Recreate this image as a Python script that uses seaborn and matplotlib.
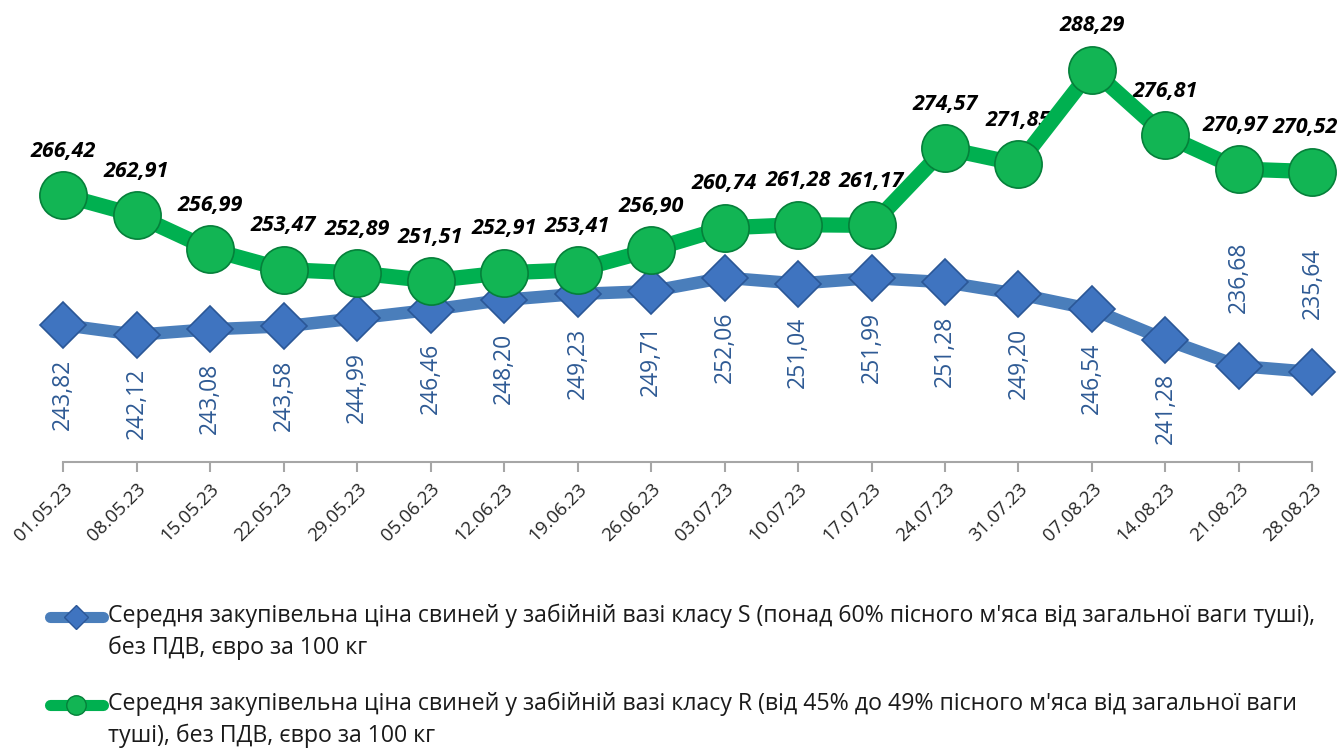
import matplotlib
matplotlib.use("Agg")
import matplotlib.pyplot as plt
import seaborn as sns
import pandas as pd
from matplotlib.lines import Line2D

dates = ["01.05.23", "08.05.23", "15.05.23", "22.05.23", "29.05.23", "05.06.23",
         "12.06.23", "19.06.23", "26.06.23", "03.07.23", "10.07.23", "17.07.23",
         "24.07.23", "31.07.23", "07.08.23", "14.08.23", "21.08.23", "28.08.23"]
class_s = [243.82, 242.12, 243.08, 243.58, 244.99, 246.46, 248.20, 249.23, 249.71,
           252.06, 251.04, 251.99, 251.28, 249.20, 246.54, 241.28, 236.68, 235.64]
class_r = [266.42, 262.91, 256.99, 253.47, 252.89, 251.51, 252.91, 253.41, 256.90,
           260.74, 261.28, 261.17, 274.57, 271.85, 288.29, 276.81, 270.97, 270.52]
label_s = ("Середня закупівельна ціна свиней у забійній вазі класу S (понад 60% пісного м'яса від загальної ваги туші),\n"
           "без ПДВ, євро за 100 кг")
label_r = ("Середня закупівельна ціна свиней у забійній вазі класу R (від 45% до 49% пісного м'яса від загальної ваги\n"
           "туші), без ПДВ, євро за 100 кг")

sns.set_theme(style="white")
plt.rcParams['font.family'] = ['Open Sans', 'DejaVu Sans']

blue = "#4A7EBB"
blue_mk = "#3F74C0"
blue_txt = "#2E5A94"
green = "#00B050"
green_mk = "#12B554"

df = pd.DataFrame({"x": range(len(dates)), "s": class_s, "r": class_r})

fig = plt.figure(figsize=(13.42, 7.51), dpi=100)
ax = fig.add_axes([0.047, 0.385, 0.931, 0.612])

sns.lineplot(data=df, x="x", y="s", ax=ax, color=blue, lw=9, marker="D",
             markersize=23, markerfacecolor=blue_mk, markeredgecolor="#2B5797",
             markeredgewidth=1.2, zorder=3)
sns.lineplot(data=df, x="x", y="r", ax=ax, color=green, lw=11, marker="o",
             markersize=34, markerfacecolor=green_mk, markeredgecolor="#05803A",
             markeredgewidth=1.2, zorder=4)
for ln in ax.lines:
    ln.set_clip_on(False)

n = len(class_r)
for i, v in enumerate(class_r):
    dx = 0
    if i == n - 2:
        dx = -2.5
    elif i == n - 1:
        dx = -5   # keep the last label inside the figure
    ax.annotate(f"{v:.2f}".replace(".", ","), (i, v), xytext=(dx, 24),
                textcoords="offset points", ha="center", va="bottom",
                fontsize=15.5, fontweight="bold", fontstyle="italic", color="black")

for i, v in enumerate(class_s):
    txt = f"{v:.2f}".replace(".", ",")
    if i >= 16:
        ax.annotate(txt, (i, v), xytext=(0, 38), textcoords="offset points",
                    ha="center", va="bottom", rotation=90, fontsize=16.5, color=blue_txt)
    else:
        ax.annotate(txt, (i, v), xytext=(0, -24), textcoords="offset points",
                    ha="center", va="top", rotation=90, fontsize=16.5, color=blue_txt)

ax.set_xlim(0, len(dates) - 1)
ax.set_ylim(220, 300)
ax.set_xticks(range(len(dates)))
ax.set_xticklabels(dates, rotation=45, ha="right", rotation_mode="anchor", fontsize=13.5)
ax.set_yticks([])
ax.set_xlabel("")
ax.set_ylabel("")
for side in ["top", "right", "left"]:
    ax.spines[side].set_visible(False)
ax.spines["bottom"].set_color("#A6A6A6")
ax.spines["bottom"].set_linewidth(1.5)
ax.tick_params(axis="x", bottom=True, length=7, width=1.5, color="#A6A6A6", pad=6)
ax.patch.set_alpha(0)

# legend drawn by hand so the handle aligns with the first text line
for ypix, col, mk, mfc, mec, ms, lab in [
        (617, blue, "D", blue_mk, "#2B5797", 12, label_s),
        (705, green, "o", green_mk, "#05803A", 14, label_r)]:
    yf = 1 - ypix / 751
    fig.add_artist(Line2D([50 / 1342, 103 / 1342], [yf, yf], transform=fig.transFigure,
                          color=col, lw=8, solid_capstyle="round"))
    fig.add_artist(Line2D([76 / 1342], [yf], transform=fig.transFigure, marker=mk,
                          markersize=ms, markerfacecolor=mfc, markeredgecolor=mec, lw=0))
    fig.text(108 / 1342, yf + 13 / 751, lab, ha="left", va="top", fontsize=16.7,
             color="#1a1a1a", linespacing=1.42)

fig.savefig("out.png", dpi=100, facecolor="white")
